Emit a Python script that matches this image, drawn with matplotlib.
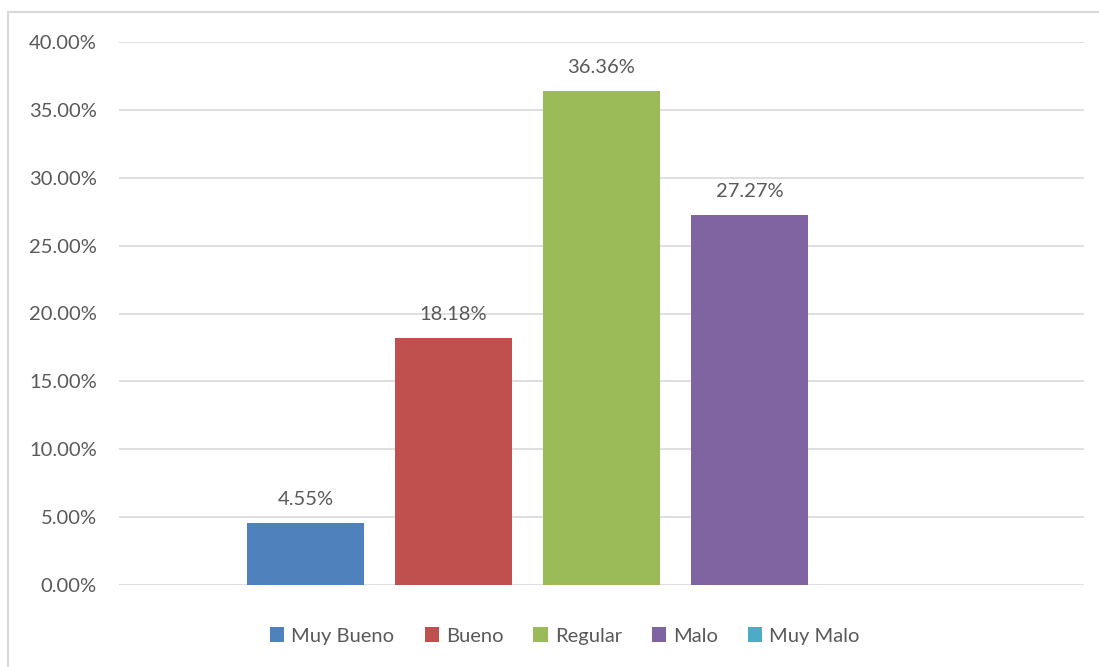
import matplotlib.pyplot as plt
from matplotlib.patches import Rectangle
from matplotlib.ticker import FuncFormatter

categorias = ["Muy Bueno", "Bueno", "Regular", "Malo", "Muy Malo"]
valores = [4.55, 18.18, 36.36, 27.27, 0.0]
colores = ["#4F81BD", "#C0504D", "#9BBB59", "#8064A2", "#4BACC6"]
ticks_y = [0, 5, 10, 15, 20, 25, 30, 35, 40]

plt.rcParams['font.family'] = ['Lato', 'DejaVu Sans']
gris = "#595959"

fig = plt.figure(figsize=(10.99, 6.67), dpi=100)
ax = fig.add_axes([119 / 1099, 82 / 667, 965 / 1099, 543 / 667])

for i, (cat, val, col) in enumerate(zip(categorias, valores, colores)):
    ax.bar(i, val, width=0.79, color=col, label=cat, zorder=3)
    if val > 0:
        ax.text(i, val + 1.1, "{:.2f}%".format(val), ha='center', va='bottom',
                fontsize=14.5, color=gris)

ax.set_xlim(-1.26, 5.26)
ax.set_ylim(0, 40)
ax.set_yticks(ticks_y)
ax.yaxis.set_major_formatter(FuncFormatter(lambda v, p: "{:.2f}%".format(v)))
ax.set_xticks([])
ax.grid(axis='y', color="#D9D9D9", linewidth=1.2, zorder=0)
for s in ax.spines.values():
    s.set_visible(False)
ax.tick_params(axis='y', length=0, pad=16, labelsize=14.5, labelcolor=gris)

leg = fig.legend(loc='center', bbox_to_anchor=(565 / 1099, 1 - 636 / 667), ncol=5,
                 frameon=False, fontsize=14.5, handlelength=0.7, handleheight=0.7,
                 handletextpad=0.35, columnspacing=1.5, labelcolor=gris)

# marco del gráfico
fig.patches.append(Rectangle((8 / 1099, -0.1), 1.2, 0.1 + 655 / 667,
                             transform=fig.transFigure, fill=False,
                             edgecolor="#D9D9D9", linewidth=1.5))

fig.savefig("out.png", dpi=100)
